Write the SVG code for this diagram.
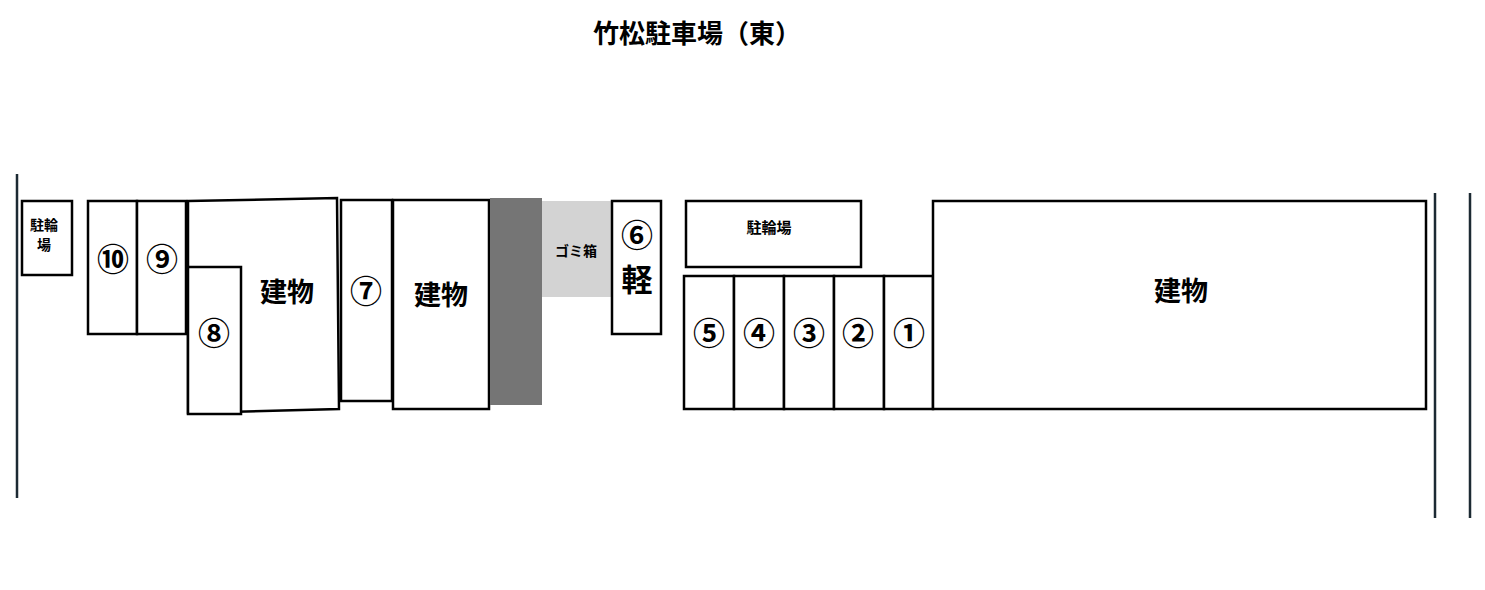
<svg xmlns="http://www.w3.org/2000/svg" width="1485" height="590" viewBox="0 0 1485 590">
<style>
.b{fill:#fff;stroke:#000;stroke-width:2.5}
.t{font-family:"Noto Sans CJK JP",sans-serif;font-weight:bold;fill:#000;text-anchor:middle}
.n{font-size:32px}
.l{stroke:#1c2a33;stroke-width:2.5}
</style>
<rect width="1485" height="590" fill="#fff"/>
<text class="t" x="697" y="43" font-size="26">竹松駐車場（東）</text>
<g id="lines"><line class="l" x1="17" y1="174" x2="17" y2="498"/><line class="l" x1="1435" y1="193" x2="1435" y2="518"/><line class="l" x1="1470" y1="193" x2="1470" y2="518"/></g>
<g id="bike1"><rect class="b" x="22" y="201" width="50" height="74"/><text class="t" x="44" y="230" font-size="14">駐輪</text><text class="t" x="44" y="250" font-size="14">場</text></g>
<g id="p10"><rect class="b" x="88" y="201" width="49" height="133"/><text class="t n" x="113" y="271">⑩</text></g>
<g id="p9"><rect class="b" x="137" y="201" width="49" height="133"/><text class="t n" x="162" y="271">⑨</text></g>
<g id="bld1"><polygon class="b" points="188,201 337,198 339,409 188,413"/><text class="t" x="287" y="302" font-size="27">建物</text></g>
<g id="p8"><rect class="b" x="188" y="267" width="53" height="147"/><text class="t n" x="214" y="345">⑧</text></g>
<g id="p7"><rect class="b" x="341" y="200" width="51" height="201"/><text class="t n" x="366" y="303">⑦</text></g>
<g id="bld2"><rect class="b" x="393" y="200" width="96" height="209"/><text class="t" x="441" y="305" font-size="27">建物</text></g>
<g id="wall"><rect x="490" y="198" width="52" height="207" fill="#757575"/></g>
<g id="trash"><rect x="542" y="201" width="70" height="96" fill="#d3d3d3"/><text class="t" x="576" y="256" font-size="14" fill="#333">ゴミ箱</text></g>
<g id="p6"><rect class="b" x="612" y="201" width="49" height="133"/><text class="t n" x="637" y="247">⑥</text><text class="t" x="637" y="291" font-size="31">軽</text></g>
<g id="bike2"><rect class="b" x="686" y="201" width="175" height="66"/><text class="t" x="769" y="233" font-size="15">駐輪場</text></g>
<g id="p5"><rect class="b" x="684" y="276" width="50" height="133"/><text class="t n" x="709" y="345">⑤</text></g>
<g id="p4"><rect class="b" x="734" y="276" width="50" height="133"/><text class="t n" x="759" y="345">④</text></g>
<g id="p3"><rect class="b" x="784" y="276" width="50" height="133"/><text class="t n" x="809" y="345">③</text></g>
<g id="p2"><rect class="b" x="834" y="276" width="50" height="133"/><text class="t n" x="858" y="345">②</text></g>
<g id="p1"><rect class="b" x="884" y="276" width="49" height="133"/><text class="t n" x="909" y="345">①</text></g>
<g id="bld3"><rect class="b" x="933" y="201" width="493" height="208"/><text class="t" x="1181" y="301" font-size="27">建物</text></g>
</svg>
